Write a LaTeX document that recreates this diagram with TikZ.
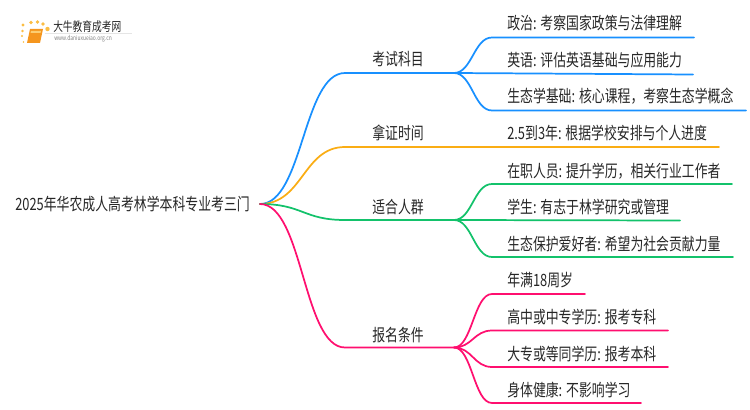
\documentclass[tikz,border=0pt]{standalone}
\usepackage{fontspec}
\setmainfont[FakeStretch=0.76]{Noto Sans CJK SC}
\usetikzlibrary{calc,positioning}
\definecolor{kemuc}{HTML}{1890FF}
\definecolor{shijianc}{HTML}{FAAD14}
\definecolor{renqunc}{HTML}{13C26B}
\definecolor{tiaojianc}{HTML}{FF0F6F}
\definecolor{textc}{HTML}{262626}
\definecolor{bookc}{HTML}{F5961E}
\tikzset{
    every node/.style={text=textc,font=\fontsize{12.7pt}{13pt}\selectfont,inner sep=0pt},
    branchline/.style={line width=1.3pt,line cap=round},
    leaftext/.style={anchor=base west}
}
\begin{document}
\begin{tikzpicture}[x=0.75pt,y=-0.75pt]
    \useasboundingbox (0,0) rectangle (750,410);
    % logo
    \fill[bookc] (30,29) -- (43,29) -- (40,43) -- (27,43) -- cycle;
    \fill[shijianc!60] (31,31) -- (41,31) -- (40.5,33) -- (30.5,33) -- cycle;
    \foreach \dotx/\doty/\dotr in {23/25/1.6,31/22.5/1.8,37.5/22/1.8,43/24/1.8,47.5/29/2.2,22.5/31/1.3,22/36/1.1,23.5/42/0.9}
        \fill[shijianc!80] (\dotx,\doty) circle (\dotr);
    \fill[gray!20] (45,33) rectangle (132,33.5);
    \node[anchor=west,font=\fontsize{9.6pt}{10pt}\selectfont] (logotext) at (53,27) {大牛教育成考网};
    \node[anchor=west,font=\fontsize{4.9pt}{6pt}\selectfont,text=gray] (logourl) at (54,39) {www.daniuxueiao.org.cn};
    % root
    \node[anchor=base west] (root) at (15,210) {2025年华农成人高考林学本科专业考三门};
    \coordinate (R) at (260,204);
    % first level
    \coordinate (A) at (345,73);
    \coordinate (A1) at (454,73);
    \coordinate (B) at (345,147);
    \coordinate (C) at (345,220);
    \coordinate (C1) at (454,220);
    \coordinate (D) at (345,347.5);
    \coordinate (D1) at (454,347.5);
    \draw[branchline,kemuc] (R) .. controls (303,204) and (303,73) .. (A) -- (A1);
    \draw[branchline,shijianc] (R) .. controls (303,204) and (303,147) .. (B) -- (719,147);
    \draw[branchline,renqunc] (R) .. controls (303,204) and (303,220) .. (C) -- (C1);
    \draw[branchline,tiaojianc] (R) .. controls (303,204) and (303,347.5) .. (D) -- (D1);
    \node[leaftext] (kemu) at (372,66) {考试科目};
    \node[leaftext] (shijian) at (372,140) {拿证时间};
    \node[leaftext] (renqun) at (372,213) {适合人群};
    \node[leaftext] (tiaojian) at (372,341) {报名条件};
    % kemu leaves
    \draw[branchline,kemuc] (A1) .. controls (472,73) and (474,37.5) .. (492,37.5) -- (694,37.5);
    \draw[branchline,kemuc] (A1) -- (693,74.5);
    \draw[branchline,kemuc] (A1) .. controls (472,73) and (474,110.5) .. (492,110.5) -- (746,110.5);
    \node[leaftext] (zhengzhi) at (507,30) {政治: 考察国家政策与法律理解};
    \node[leaftext] (yingyu) at (507,67) {英语: 评估英语基础与应用能力};
    \node[leaftext] (shengtai) at (507,103) {生态学基础: 核心课程，考察生态学概念};
    \node[leaftext] (xuezhi) at (507,140) {2.5到3年: 根据学校安排与个人进度};
    % renqun leaves
    \draw[branchline,renqunc] (C1) .. controls (472,220) and (474,184) .. (492,184) -- (732,184);
    \draw[branchline,renqunc] (C1) -- (680,220.5);
    \draw[branchline,renqunc] (C1) .. controls (472,220) and (474,257) .. (492,257) -- (733,257);
    \node[leaftext] (zaizhi) at (507,177) {在职人员: 提升学历，相关行业工作者};
    \node[leaftext] (xuesheng) at (507,213) {学生: 有志于林学研究或管理};
    \node[leaftext] (aihao) at (507,250) {生态保护爱好者: 希望为社会贡献力量};
    % tiaojian leaves
    \draw[branchline,tiaojianc] (D1) .. controls (472,347.5) and (474,294) .. (492,294) -- (585,294);
    \draw[branchline,tiaojianc] (D1) .. controls (472,347.5) and (474,330.5) .. (492,330.5) -- (668,330.5);
    \draw[branchline,tiaojianc] (D1) .. controls (472,347.5) and (474,367) .. (492,367) -- (668,367);
    \draw[branchline,tiaojianc] (D1) .. controls (472,347.5) and (474,403) .. (492,403) -- (641,403);
    \node[leaftext] (nianling) at (507,286) {年满18周岁};
    \node[leaftext] (gaozhong) at (507,323) {高中或中专学历: 报考专科};
    \node[leaftext] (dazhuan) at (507,360) {大专或等同学历: 报考本科};
    \node[leaftext] (shenti) at (507,396) {身体健康: 不影响学习};
\end{tikzpicture}
\end{document}
